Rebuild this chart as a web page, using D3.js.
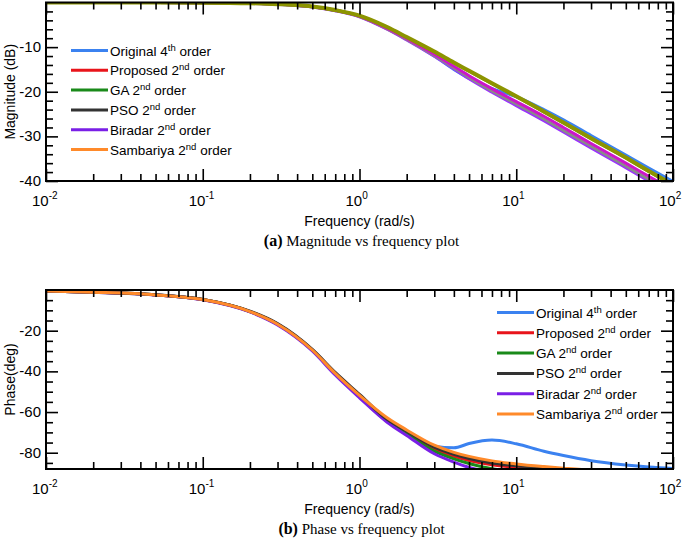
<!DOCTYPE html>
<html><head><meta charset="utf-8">
<script src="https://cdn.jsdelivr.net/npm/d3@7"></script>
<style>
body{margin:0;background:#fff;}
text{font-family:"Liberation Sans",Arial,sans-serif;fill:#000;}
.cap{font-family:"Liberation Serif","Times New Roman",serif;}
</style></head>
<body><svg id="c" width="685" height="539"></svg>
<script>
// ---- data ----
const freqs = [0.01,0.02,0.05,0.1,0.2,0.3,0.5,0.7,1,1.5,2,3,4,5,7,10,15,20,30,50,70,100];
const seriesNames = ["Original", "Proposed", "GA", "PSO", "Biradar", "Sambariya"];
const seriesOrders = ["4th","2nd","2nd","2nd","2nd","2nd"];
const legendColors = ["#3b82f0","#e8141b","#1a8a1a","#333333","#7a1fe6","#ff8a2a"];
const magColors = ["#3b82f0","#cc16c9","#8c9400","#8a8a8a","#9b30ff","#8c9400"];

const magOriginal  = [0,0,-0.01,-0.04,-0.17,-0.38,-0.95,-1.75,-3.1,-5.8,-8.2,-12.0,-15.0,-17.0,-19.3,-21.1,-24.0,-26.3,-29.8,-34.2,-37.1,-40.1];
const magProposed  = [0,0,-0.01,-0.04,-0.17,-0.38,-0.95,-1.75,-3.1,-5.8,-8.1,-11.6,-14.3,-16.4,-19.3,-22.2,-25.5,-28.0,-31.6,-36.0,-38.95,-42.05];
const magGA        = [0,0,-0.01,-0.04,-0.17,-0.37,-0.9,-1.7,-2.95,-5.5,-7.75,-11.0,-13.45,-15.3,-18.1,-21.0,-24.4,-26.9,-30.4,-34.75,-37.75,-40.85];
const magPSO       = [0,0,-0.01,-0.04,-0.17,-0.39,-0.97,-1.8,-3.15,-5.9,-8.25,-11.85,-14.6,-16.8,-19.8,-22.75,-26.1,-28.65,-32.2,-36.65,-39.6,-42.7];
const magBiradar   = [0,0,-0.01,-0.04,-0.18,-0.40,-1.0,-1.85,-3.2,-6.0,-8.4,-12.05,-14.85,-17.1,-20.1,-23.1,-26.5,-29.0,-32.6,-37.0,-40.0,-43.1];
const magSambariya = [0,0,-0.01,-0.04,-0.17,-0.37,-0.92,-1.72,-3.0,-5.55,-7.8,-11.1,-13.55,-15.4,-18.2,-21.1,-24.5,-27.0,-30.5,-34.85,-37.85,-40.95];

const phOriginal  = [-0.5,-1.1,-2.4,-4.7,-10.6,-16.8,-29.5,-41,-52,-64,-70.6,-76.8,-77.6,-75.5,-73.8,-75.6,-79.3,-81.4,-83.9,-86.0,-87.0,-87.7];
const phProposed  = [-0.5,-1.1,-2.4,-4.7,-10.6,-16.8,-29.5,-41,-52,-64.3,-70.3,-78.2,-81.8,-83.8,-85.9,-87.1,-88.2,-88.8,-89.3,-89.6,-89.7,-89.8];
const phGA        = [-0.5,-1.1,-2.4,-4.7,-10.6,-16.8,-29.6,-41.2,-52.3,-64.6,-70.8,-79.2,-83.0,-85.3,-87.9,-89.0,-89.5,-89.7,-89.8,-89.9,-89.9,-89.9];
const phPSO       = [-0.5,-1.1,-2.3,-4.6,-10.4,-16.5,-29.2,-40.5,-51.3,-63.6,-69.4,-77.3,-80.8,-82.8,-85.0,-86.4,-87.5,-88.1,-88.8,-89.3,-89.5,-89.6];
const phBiradar   = [-0.5,-1.1,-2.4,-4.8,-10.8,-17.2,-30.0,-41.8,-53.0,-65.0,-71.5,-80.5,-84.6,-87.2,-89.3,-89.7,-89.8,-89.9,-89.9,-89.9,-89.9,-89.9];
const phSambariya = [-0.5,-1.1,-2.4,-4.7,-10.6,-16.8,-29.5,-41,-51.8,-62.8,-68.8,-76.3,-79.8,-81.8,-84.0,-85.5,-86.8,-87.6,-88.6,-89.2,-89.5,-89.6];

const magData = [magOriginal, magProposed, magGA, magPSO, magBiradar, magSambariya];
const phData  = [phOriginal, phProposed, phGA, phPSO, phBiradar, phSambariya];
const xMajor = [0.01, 0.1, 1, 10, 100];
const xMajorExp = ["-2","-1","0","1","2"];
const magTicks = [-10,-20,-30,-40];
const phTicks = [-20,-40,-60,-80];

// ---- drawing ----
const svg = d3.select("#c");
const L = 46, R = 673;

function minorX(){
  const out=[];
  for(let e=-2;e<2;e++) for(let k=2;k<=9;k++) out.push(k*Math.pow(10,e));
  return out;
}

function panel(opts){
  const g = svg.append("g");
  const x = d3.scaleLog().domain([0.01,100]).range([L,R]);
  const y = d3.scaleLinear().domain(opts.ydom).range([opts.bottom, opts.top]);
  const id = "clip"+opts.key;
  svg.append("defs").append("clipPath").attr("id",id).append("rect")
    .attr("x",L).attr("y",opts.top).attr("width",R-L).attr("height",opts.bottom-opts.top);
  const line = d3.line().x(d=>x(d[0])).y(d=>y(d[1])).curve(d3.curveMonotoneX);
  const lg = g.append("g").attr("clip-path",`url(#${id})`);
  opts.order.forEach(i=>{
    lg.append("path").datum(freqs.map((f,j)=>[f,opts.data[i][j]]))
      .attr("d",line).attr("fill","none").attr("stroke",opts.colors[i])
      .attr("stroke-width",opts.lw[i]).attr("stroke-linejoin","round");
  });
  const style = a => a.call(s=>{s.select(".domain").remove(); s.selectAll("line").attr("stroke","#000").attr("stroke-width",1.6); s.selectAll("text").remove();});
  const mnx = minorX();
  g.append("g").attr("transform",`translate(0,${opts.bottom})`).call(d3.axisBottom(x).tickValues(xMajor).tickSize(-12)).call(style);
  g.append("g").attr("transform",`translate(0,${opts.bottom})`).call(d3.axisBottom(x).tickValues(mnx).tickSize(-7)).call(style);
  g.append("g").attr("transform",`translate(0,${opts.top})`).call(d3.axisTop(x).tickValues(xMajor).tickSize(-12)).call(style);
  g.append("g").attr("transform",`translate(0,${opts.top})`).call(d3.axisTop(x).tickValues(mnx).tickSize(-7)).call(style);
  g.append("g").attr("transform",`translate(${L},0)`).call(d3.axisLeft(y).tickValues(opts.yMajor).tickSize(-12)).call(style);
  g.append("g").attr("transform",`translate(${L},0)`).call(d3.axisLeft(y).tickValues(opts.yMinor).tickSize(-7)).call(style);
  g.append("g").attr("transform",`translate(${R},0)`).call(d3.axisRight(y).tickValues(opts.yMajor).tickSize(-12)).call(style);
  g.append("g").attr("transform",`translate(${R},0)`).call(d3.axisRight(y).tickValues(opts.yMinor).tickSize(-7)).call(style);
  g.append("rect").attr("x",L).attr("y",opts.top).attr("width",R-L).attr("height",opts.bottom-opts.top)
    .attr("fill","none").attr("stroke","#000").attr("stroke-width",2);
  // x tick labels
  xMajor.forEach((v,i)=>{
    const t = g.append("text").attr("x",x(v)-14).attr("y",opts.bottom+25).attr("font-size",15);
    t.append("tspan").text("10");
    t.append("tspan").attr("dy",-7).attr("font-size",10).text(xMajorExp[i]);
  });
  // y tick labels
  opts.yMajor.forEach(v=>{
    g.append("text").attr("x",L-5).attr("y",y(v)+5).attr("text-anchor","end").attr("font-size",15).text(v);
  });
  g.append("text").attr("x",(L+R)/2).attr("y",opts.bottom+45).attr("text-anchor","middle").attr("font-size",14).text("Frequency (rad/s)");
  g.append("text").attr("transform",`translate(15,${(opts.top+opts.bottom)/2}) rotate(-90)`).attr("text-anchor","middle").attr("font-size",14).text(opts.ylabel);
  const cap = g.append("text").attr("class","cap").attr("x",(L+R)/2+2).attr("y",opts.bottom+65).attr("text-anchor","middle").attr("font-size",15);
  cap.append("tspan").attr("font-weight","bold").attr("font-size",16).text(opts.capLetter);
  cap.append("tspan").text(" "+opts.capText);
  // legend
  seriesNames.forEach((n,i)=>{
    const yy = opts.legY + i*opts.legDy;
    g.append("line").attr("x1",opts.legX).attr("x2",opts.legX+37).attr("y1",yy).attr("y2",yy)
      .attr("stroke",legendColors[i]).attr("stroke-width",3);
    const t = g.append("text").attr("x",opts.legX+39).attr("y",yy+5).attr("font-size",13.5);
    const ord = seriesOrders[i];
    t.append("tspan").text(n+" "+ord[0]);
    t.append("tspan").attr("dy",-5).attr("font-size",9.5).text(ord.slice(1));
    t.append("tspan").attr("dy",5).text(" order");
  });
}

panel({key:"m", ydom:[-40,0], top:2.5, bottom:181, data:magData, colors:magColors,
  lw:[3,3,4,3,3,3], order:[0,4,3,1,5,2],
  yMajor:magTicks, yMinor:d3.range(-38,0,2).filter(v=>v%10!==0),
  ylabel:"Magnitude (dB)", capLetter:"(a)", capText:"Magnitude vs frequency plot",
  legX:71, legY:50.5, legDy:19.8});

panel({key:"p", ydom:[-88,0], top:290, bottom:469, data:phData, colors:legendColors,
  lw:[3,3,3,3,3,3], order:[0,1,2,4,3,5],
  yMajor:phTicks, yMinor:d3.range(-85,0,5).filter(v=>v%20!==0),
  ylabel:"Phase(deg)", capLetter:"(b)", capText:"Phase vs frequency plot",
  legX:497, legY:312.5, legDy:20.3});
</script></body></html>
